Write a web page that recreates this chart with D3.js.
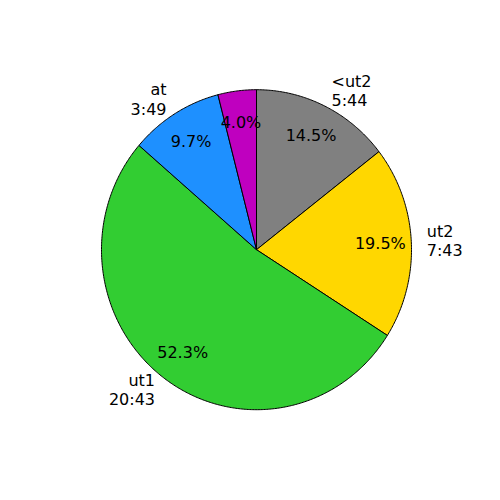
<!DOCTYPE html>
<html>
<head>
<meta charset="utf-8">
<script src="https://cdn.jsdelivr.net/npm/d3@7"></script>
<style>
  html, body { margin: 0; padding: 0; background: #fff; }
  svg { display: block; }
  text { font-family: "DejaVu Sans", sans-serif; font-size: 16px; fill: #000; }
</style>
</head>
<body>
<svg id="chart" width="500" height="500"></svg>
<script>
// Data
const categories = ["<ut2", "ut2", "ut1", "at", ""];
const times = ["5:44", "7:43", "20:43", "3:49", ""];
const values = [14.5, 19.5, 52.3, 9.7, 4.0];
const colors = ["#808080", "#FFD700", "#32CD32", "#1E90FF", "#BF00BF"];

const svg = d3.select("#chart");
const cx = 256.5, cy = 249.7, rx = 155, ry = 160;
const fs = 16;

const pie = d3.pie().sort(null).value(d => d).startAngle(0).endAngle(2 * Math.PI);
const arcs = pie(values);

// map unit circle to ellipse
const ex = d3.scaleLinear().domain([-1, 1]).range([cx - rx, cx + rx]);
const ey = d3.scaleLinear().domain([-1, 1]).range([cy - ry, cy + ry]);

function slicePath(a) {
  const n = Math.max(8, Math.ceil((a.endAngle - a.startAngle) / 0.01));
  const pts = [[ex(0), ey(0)]];
  for (let i = 0; i <= n; i++) {
    const t = a.startAngle + (a.endAngle - a.startAngle) * i / n;
    pts.push([ex(Math.sin(t)), ey(-Math.cos(t))]);
  }
  return d3.line()(pts) + "Z";
}

svg.append("g").selectAll("path").data(arcs).join("path")
  .attr("d", slicePath)
  .attr("fill", (d, i) => colors[i])
  .attr("stroke", "#000")
  .attr("stroke-width", 1)
  .attr("stroke-linejoin", "round");

// percentage labels
svg.append("g").selectAll("text").data(arcs).join("text")
  .attr("x", d => ex(0.8 * Math.sin((d.startAngle + d.endAngle) / 2)))
  .attr("y", d => ey(-0.8 * Math.cos((d.startAngle + d.endAngle) / 2)) + 0.36 * fs)
  .attr("text-anchor", "middle")
  .text((d, i) => values[i].toFixed(1) + "%");

// category labels
const lab = svg.append("g").selectAll("text").data(arcs).join("text")
  .attr("text-anchor", d => Math.sin((d.startAngle + d.endAngle) / 2) > 0 ? "start" : "end");
lab.each(function(d, i) {
  if (!categories[i]) return;
  const m = (d.startAngle + d.endAngle) / 2;
  const x = ex(1.1 * Math.sin(m));
  const y = ey(-1.1 * Math.cos(m));
  const lines = [categories[i], times[i]];
  const lh = 1.2 * fs;
  const t = d3.select(this);
  lines.forEach((s, k) => {
    t.append("tspan")
      .attr("x", x)
      .attr("y", y + (k - (lines.length - 1) / 2) * lh + 0.36 * fs - 1)
      .text(s);
  });
});
</script>
</body>
</html>
